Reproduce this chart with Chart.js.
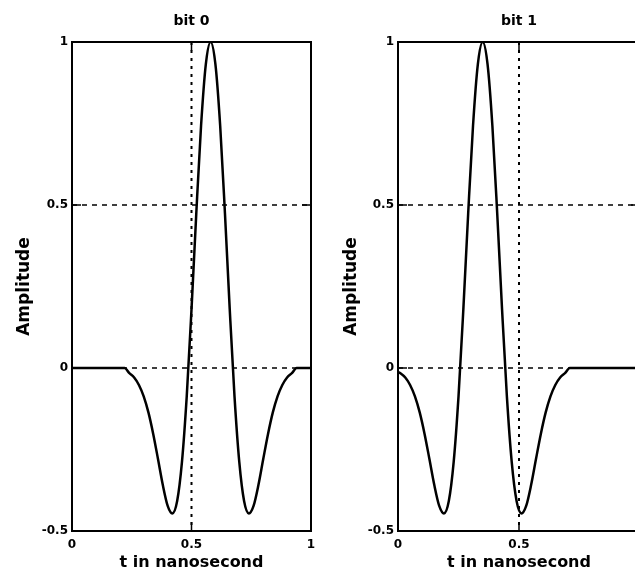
<!DOCTYPE html>
<html>
<head>
<meta charset="utf-8">
<script src="https://cdn.jsdelivr.net/npm/chart.js@4.4.0/dist/chart.umd.min.js"></script>
<style>
  html, body { margin: 0; padding: 0; background: #fff; overflow: hidden; }
  #wrap { position: relative; width: 635px; height: 588px; overflow: hidden; }
  canvas { position: absolute; top: 0; }
  #bit0 { left: 0; }
  #bit1 { left: 320px; }
</style>
</head>
<body>
<div id="wrap">
  <canvas id="bit0" width="320" height="588"></canvas>
  <canvas id="bit1" width="330" height="588"></canvas>
</div>
<script>
const titles = ['bit 0', 'bit 1'];
const xTitle = 't in nanosecond';
const yTitle = 'Amplitude';
const xTicks = [0, 0.5, 1];
const yTicks = [-0.5, 0, 0.5, 1];

// bit 0 pulse (peak near t = 0.58)
const tBit0 = [0, 0.22, 0.24, 0.26, 0.28, 0.30, 0.32, 0.34, 0.36, 0.38, 0.40, 0.42, 0.44, 0.46, 0.48,
  0.50, 0.52, 0.54, 0.56, 0.58, 0.60, 0.62, 0.64, 0.66, 0.68, 0.70, 0.72, 0.74, 0.76, 0.78,
  0.80, 0.82, 0.84, 0.86, 0.88, 0.90, 0.92, 0.94, 1];
const ampBit0 = [0, 0, -0.016, -0.029, -0.052, -0.087, -0.137, -0.203, -0.280, -0.359, -0.422, -0.446, -0.408, -0.289, -0.088,
  0.180, 0.474, 0.743, 0.932, 1, 0.932, 0.743, 0.474, 0.180, -0.088, -0.289, -0.408, -0.446, -0.422, -0.359,
  -0.280, -0.203, -0.137, -0.087, -0.052, -0.029, -0.016, 0, 0];

// bit 1 pulse (peak near t = 0.35)
const tBit1 = [0, 0.01, 0.03, 0.05, 0.07, 0.09, 0.11, 0.13, 0.15, 0.17, 0.19, 0.21, 0.23, 0.25, 0.27,
  0.29, 0.31, 0.33, 0.35, 0.37, 0.39, 0.41, 0.43, 0.45, 0.47, 0.49, 0.51, 0.53, 0.55, 0.57,
  0.59, 0.61, 0.63, 0.65, 0.67, 0.69, 0.71, 1];
const ampBit1 = [-0.012, -0.016, -0.029, -0.052, -0.087, -0.137, -0.203, -0.280, -0.359, -0.422, -0.446, -0.408, -0.289, -0.088, 0.180,
  0.474, 0.743, 0.932, 1, 0.932, 0.743, 0.474, 0.180, -0.088, -0.289, -0.408, -0.446, -0.422, -0.359, -0.280,
  -0.203, -0.137, -0.087, -0.052, -0.029, -0.016, 0, 0];

Chart.defaults.font.family = 'DejaVu Sans';
Chart.defaults.color = '#000';

function seg(ctx, x1, y1, x2, y2) {
  ctx.beginPath();
  ctx.moveTo(x1, y1);
  ctx.lineTo(x2, y2);
  ctx.stroke();
}

// matlab style box: dashed grid, inner ticks, solid frame
const framePlugin = {
  id: 'frame',
  beforeDatasetsDraw(chart) {
    const { ctx, chartArea: a, scales: { x, y } } = chart;
    ctx.save();
    ctx.strokeStyle = '#000';
    ctx.lineWidth = 1.5;
    ctx.setLineDash([5, 5]);
    yTicks.forEach((v) => {
      if (v === y.min || v === y.max) return;
      const py = y.getPixelForValue(v);
      seg(ctx, a.left, py, a.right, py);
    });
    ctx.lineWidth = 2;
    ctx.setLineDash([3, 5]);
    xTicks.forEach((v) => {
      if (v === x.min || v === x.max) return;
      const px = x.getPixelForValue(v);
      seg(ctx, px, a.top, px, a.bottom);
    });
    ctx.restore();
  },
  afterDatasetsDraw(chart) {
    const { ctx, chartArea: a, scales: { x, y } } = chart;
    const tl = 9;
    ctx.save();
    ctx.strokeStyle = '#000';
    ctx.lineWidth = 1.5;
    xTicks.forEach((v) => {
      const px = x.getPixelForValue(v);
      seg(ctx, px, a.bottom, px, a.bottom - tl);
      seg(ctx, px, a.top, px, a.top + tl);
    });
    yTicks.forEach((v) => {
      const py = y.getPixelForValue(v);
      seg(ctx, a.left, py, a.left + tl, py);
      seg(ctx, a.right, py, a.right - tl, py);
    });
    ctx.lineWidth = 2;
    ctx.strokeRect(a.left, a.top, a.right - a.left, a.bottom - a.top);
    ctx.restore();
  }
};

function makeChart(id, title, ts, amps, yWidth, yTitlePad, rightPad) {
  new Chart(document.getElementById(id), {
    type: 'line',
    data: {
      datasets: [{
        data: ts.map((t, i) => ({ x: t, y: amps[i] })),
        borderColor: '#000',
        borderWidth: 2.5,
        pointRadius: 0,
        cubicInterpolationMode: 'monotone',
        fill: false
      }]
    },
    options: {
      responsive: false,
      animation: false,
      devicePixelRatio: 1,
      layout: { padding: { left: 0, right: rightPad, top: 0, bottom: 0 } },
      plugins: {
        legend: { display: false },
        tooltip: { enabled: false },
        title: {
          display: true,
          text: title,
          fullSize: false,
          color: '#000',
          font: { size: 14, weight: 'bold' },
          padding: { top: 12.6, bottom: 12.6 }
        }
      },
      scales: {
        x: {
          type: 'linear',
          min: 0,
          max: 1,
          grid: { display: false, drawTicks: false },
          border: { display: false },
          ticks: {
            stepSize: 0.5, padding: 7, maxRotation: 0, autoSkip: false,
            font: { size: 12, weight: 'bold' },
            callback: (v) => String(v)
          },
          title: { display: true, text: xTitle, font: { size: 16, weight: 'bold' }, padding: { top: 0, bottom: 15.4 } },
          afterFit: (scale) => {
            scale.height = 57;
            scale.paddingLeft = 0;
            scale.paddingRight = 0;
          }
        },
        y: {
          min: -0.5,
          max: 1,
          grid: { display: false, drawTicks: false },
          border: { display: false },
          ticks: {
            stepSize: 0.5, padding: 4,
            font: { size: 12, weight: 'bold' },
            callback: (v) => String(v)
          },
          title: { display: true, text: yTitle, font: { size: 17, weight: 'bold' }, padding: { top: yTitlePad, bottom: 0 } },
          afterFit: (scale) => {
            scale.width = yWidth;
            scale.paddingTop = 0;
            scale.paddingBottom = 0;
          }
        }
      }
    },
    plugins: [framePlugin]
  });
}

makeChart('bit0', titles[0], tBit0, ampBit0, 72, 14.8, 9);
makeChart('bit1', titles[1], tBit1, ampBit1, 78, 21.8, 10);
</script>
</body>
</html>
